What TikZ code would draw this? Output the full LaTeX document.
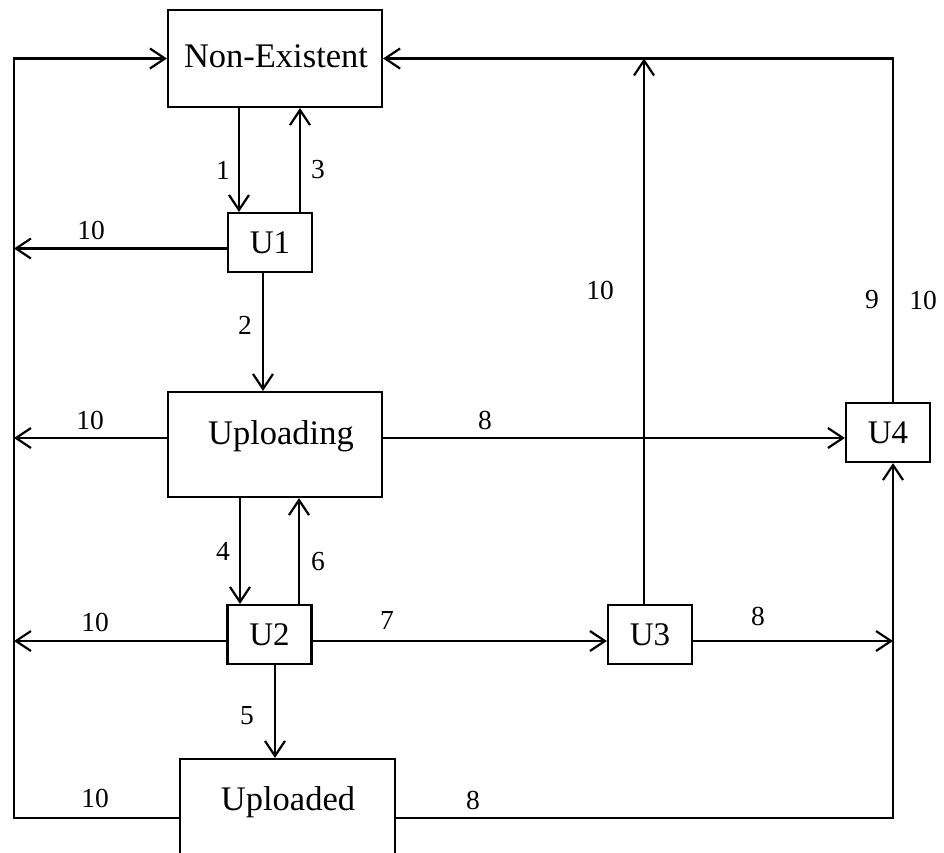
\documentclass[tikz,border=0pt]{standalone}
\usepackage{fontspec}
\setmainfont{Liberation Serif}
\usetikzlibrary{arrows.meta}
\begin{document}
\begin{tikzpicture}[x=1pt,y=-1pt,
  line width=2.2pt,
  conn/.style={-{Straight Barb[length=15pt,width=20pt,line width=2.2pt]}},
  box/.style={draw,rectangle,inner sep=0pt,font=\fontsize{34.5}{40}\selectfont},
  ubox/.style={draw,rectangle,inner sep=0pt,minimum width=84pt,minimum height=59pt,font=\fontsize{33}{38}\selectfont},
  btxt/.style={inner sep=0pt,font=\fontsize{34.5}{40}\selectfont},
  lbl/.style={inner sep=0pt,font=\fontsize{27.5}{32}\selectfont}]
\clip (0,0) rectangle (944,852);
\useasboundingbox (0,0) rectangle (944,852);

% boxes
\node[box,minimum width=214pt,minimum height=97pt] (NE) at (275,58.5) {};
\node[btxt] (NEt) at (276,56) {Non-Existent};
\node[ubox] (U1) at (270,242.5) {U1};
\node[box,minimum width=214pt,minimum height=105pt] (UP) at (275,444.5) {};
\node[btxt] (UPt) at (281,436) {Uploading};
\node[ubox] (U2) at (269.5,634.5) {U2};
\node[ubox] (U3) at (650,634.5) {U3};
\node[ubox] (U4) at (888,432.5) {U4};
\node[box,minimum width=215pt,minimum height=142pt] (UD) at (287.5,830) {};
\node[btxt] (UDt) at (288,802) {Uploaded};

% bus coordinates
\coordinate (LT) at (14,58.5);
\coordinate (LB) at (14,818);
\coordinate (L1) at (14,248.5);
\coordinate (L2) at (14,438);
\coordinate (L3) at (14,641);
\coordinate (RT) at (893,58.5);
\coordinate (RB) at (893,818);
\coordinate (RM) at (893,641);
\coordinate (T3) at (644,58.5);

% connectors
\draw[conn] ([xshift=-36pt]NE.south) -- ([xshift=-31pt]U1.north);
\draw[conn] ([xshift=30pt]U1.north) -- ([xshift=25pt]NE.south);
\draw[conn] ([yshift=-6pt]U1.west) -- (L1);
\draw[conn] ([xshift=-7pt]U1.south) -- ([xshift=-12pt]UP.north);
\draw[conn] ([yshift=6.5pt]UP.west) -- (L2);
\draw[conn] ([yshift=6.5pt]UP.east) -- ([yshift=-5.5pt]U4.west);
\draw[conn] ([xshift=-35pt]UP.south) -- ([xshift=-29.5pt]U2.north);
\draw[conn] ([xshift=29.5pt]U2.north) -- ([xshift=24pt]UP.south);
\draw[conn] ([yshift=-6.5pt]U2.west) -- (L3);
\draw[conn] ([yshift=-6.5pt]U2.east) -- ([yshift=-6.5pt]U3.west);
\draw[conn] ([xshift=5.5pt]U2.south) -- ([xshift=-12.5pt]UD.north);
\draw[conn] ([xshift=-6pt]U3.north) -- (T3);
\draw[conn] ([yshift=-6.5pt]U3.east) -- (RM);
\draw[conn] ([yshift=12pt]UD.west) -- (LB) -- (LT) -- (NE.west);
\draw[conn] ([yshift=12pt]UD.east) -- (RB) -- ([xshift=5pt]U4.south);
\draw[conn] ([xshift=5pt]U4.north) -- (RT) -- (NE.east);

% labels
\node[lbl] (l1) at (223,170) {1};
\node[lbl] (l3) at (318,170) {3};
\node[lbl] (l10a) at (91,230) {10};
\node[lbl] (l2) at (245,325) {2};
\node[lbl] (l10b) at (90,420) {10};
\node[lbl] (l8a) at (485,420) {8};
\node[lbl] (l4) at (223,551) {4};
\node[lbl] (l6) at (318,562) {6};
\node[lbl] (l10c) at (95,622) {10};
\node[lbl] (l7) at (387,620) {7};
\node[lbl] (l8b) at (758,616) {8};
\node[lbl] (l5) at (247,716) {5};
\node[lbl] (l10d) at (95,798) {10};
\node[lbl] (l8c) at (473,800) {8};
\node[lbl] (l10e) at (600,290) {10};
\node[lbl] (l9) at (872,300) {9};
\node[lbl] (l10f) at (923,300) {10};
\end{tikzpicture}
\end{document}
